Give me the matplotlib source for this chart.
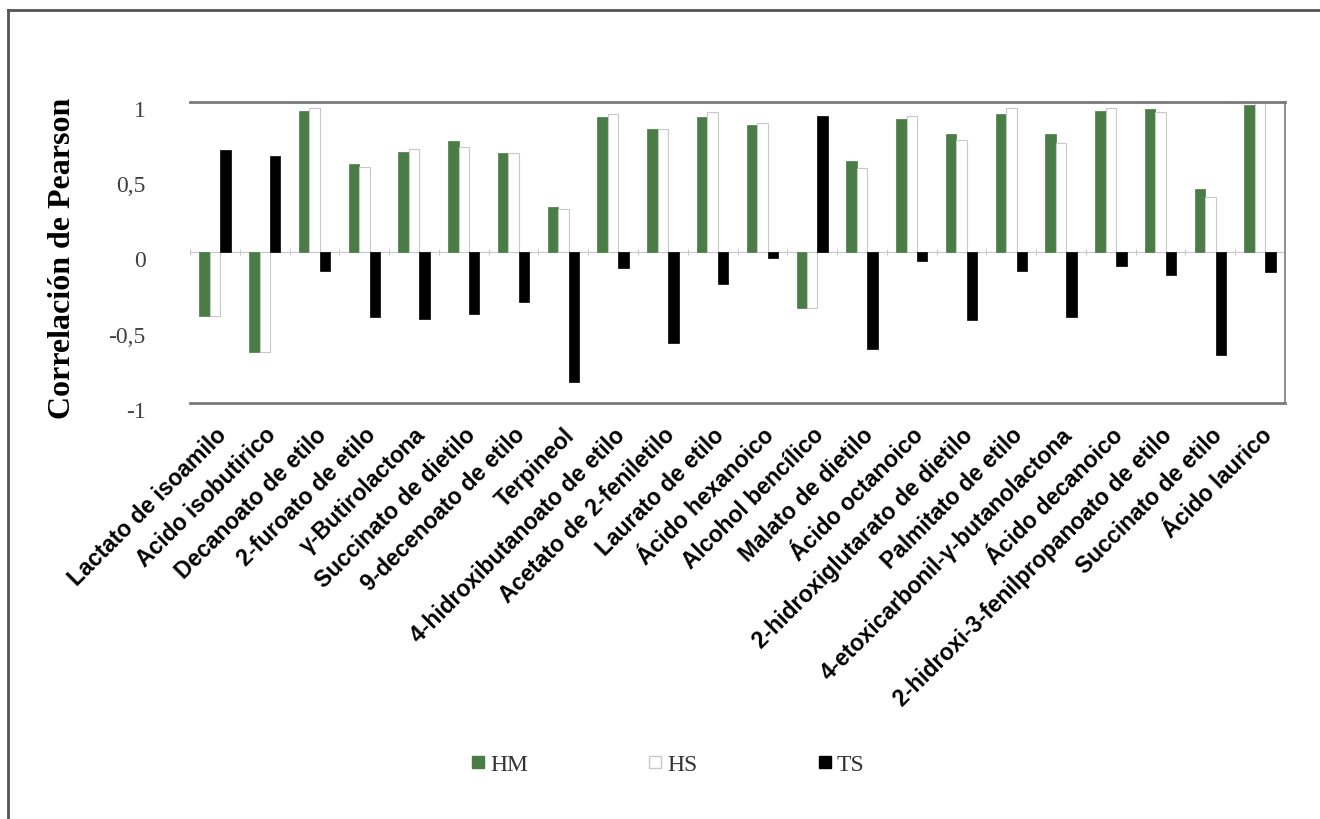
import numpy as np
import matplotlib.pyplot as plt
from matplotlib.lines import Line2D
from matplotlib.transforms import ScaledTranslation

compuestos = ['Lactato de isoamilo', 'Acido isobutirico', 'Decanoato de etilo',
              '2-furoato de etilo', 'γ-Butirolactona', 'Succinato de dietilo',
              '9-decenoato de etilo', 'Terpineol', '4-hidroxibutanoato de etilo',
              'Acetato de 2-feniletilo', 'Laurato de etilo', 'Ácido hexanoico',
              'Alcohol bencílico', 'Malato de dietilo', 'Ácido octanoico',
              '2-hidroxiglutarato de dietilo', 'Palmitato de etilo',
              '4-etoxicarbonil-γ-butanolactona', 'Ácido decanoico',
              '2-hidroxi-3-fenilpropanoato de etilo', 'Succinato de etilo',
              'Ácido laurico']

hm = [-0.42, -0.66, 0.94, 0.59, 0.67, 0.74, 0.66, 0.30, 0.90, 0.82, 0.90,
      0.85, -0.37, 0.61, 0.89, 0.79, 0.92, 0.79, 0.94, 0.95, 0.42, 0.98]
hs = [-0.42, -0.66, 0.96, 0.57, 0.69, 0.70, 0.66, 0.29, 0.92, 0.82, 0.93,
      0.86, -0.37, 0.56, 0.91, 0.75, 0.96, 0.73, 0.96, 0.93, 0.37, 1.00]
ts = [0.68, 0.64, -0.12, -0.43, -0.44, -0.41, -0.33, -0.86, -0.10, -0.60, -0.21,
      -0.04, 0.91, -0.64, -0.06, -0.45, -0.12, -0.43, -0.09, -0.15, -0.68, -0.13]

verde = '#4a7c45'
gris = '#7a7a7a'
serif = 'Liberation Serif'

fig = plt.figure(figsize=(13.2, 8.19), dpi=100)
ax = fig.add_axes([0.144, 0.508, 0.8295, 0.3675])

x = np.arange(len(compuestos))
w = 0.21
ax.bar(x - w, hm, w, color=verde, edgecolor=verde, lw=0.5, label='HM')
ax.bar(x, hs, w, color='white', edgecolor='#c8c8c8', lw=0.8, label='HS')
ax.bar(x + w, ts, w, color='black', edgecolor='black', lw=0.5, label='TS')

# eje en cero con marcas entre categorias
ax.axhline(0, color='#c8c8c8', lw=0.8, zorder=0)
bordes = np.arange(len(compuestos) + 1) - 0.5
ax.vlines(bordes, -0.02, 0.02, color='#c8c8c8', lw=0.8, zorder=0)

ax.set_xlim(-0.5, len(compuestos) - 0.5)
ax.set_ylim(-1, 1)
ax.set_yticks([-1, -0.5, 0, 0.5, 1])
ax.set_yticklabels(['-1', '-0,5', '0', '0,5', '1'], family=serif,
                   fontsize=17, color='#404040')
ax.tick_params(axis='y', length=0, pad=32)
ax.tick_params(axis='x', length=0, pad=15)
ax.set_xticks(x)
ax.set_xticklabels(compuestos, rotation=45, ha='right', rotation_mode='anchor',
                   fontsize=16.5, fontweight='bold', family='Liberation Sans')

# etiquetas del eje y un poco por debajo de las lineas, como en el original
baja = ScaledTranslation(0, -0.07, fig.dpi_scale_trans)
for t in ax.get_yticklabels():
    t.set_transform(t.get_transform() + baja)

for s in ['top', 'bottom', 'right']:
    ax.spines[s].set_color(gris)
ax.spines['top'].set_linewidth(2)
ax.spines['bottom'].set_linewidth(2)
ax.spines['right'].set_linewidth(1.2)
ax.spines['left'].set_visible(False)

fig.text(0.047, 0.685, 'Correlación de Pearson', rotation=90, ha='center',
         va='center', family=serif, fontweight='bold', fontsize=23)

handles = [Line2D([], [], ls='none', marker='s', markersize=8, color=verde),
           Line2D([], [], ls='none', marker='s', markersize=8,
                  markerfacecolor='white', markeredgecolor='#c8c8c8'),
           Line2D([], [], ls='none', marker='s', markersize=8, color='black')]
leg = fig.legend(handles, ['HM', 'HS', 'TS'], loc='center',
                 bbox_to_anchor=(0.505, 0.066), ncol=3, frameon=False,
                 prop={'family': serif, 'size': 17},
                 handletextpad=0.1, columnspacing=5.0, handlelength=0.8)
for t in leg.get_texts():
    t.set_color('#333333')

# marco de la figura (solo izquierda y arriba)
fig.add_artist(Line2D([0.006, 0.006], [0, 0.988], color='#555555', lw=2))
fig.add_artist(Line2D([0.006, 1], [0.988, 0.988], color='#555555', lw=2))

fig.savefig('out.png', dpi=100)
